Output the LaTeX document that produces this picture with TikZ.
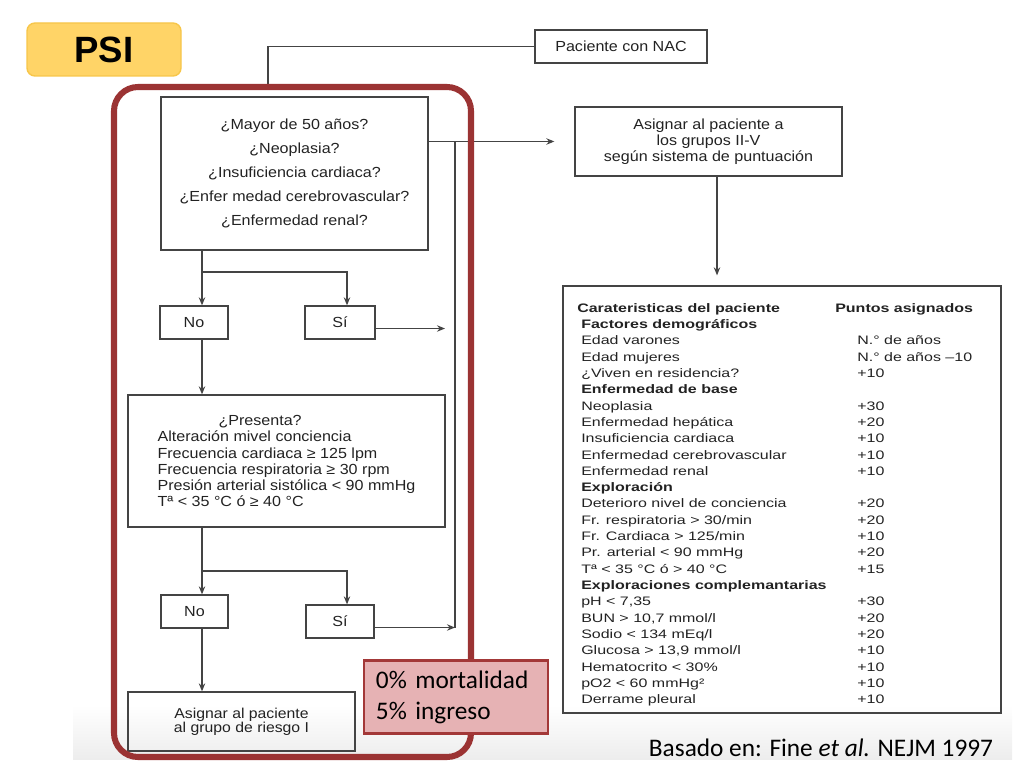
\documentclass[tikz,border=0pt]{standalone}
\usepackage{fontspec}
\setmainfont{Liberation Sans}
\newfontfamily\flujo[FakeStretch=1.1]{Liberation Sans}
\newfontfamily\tabla[FakeStretch=1.3]{Liberation Sans}
\newfontfamily\diapo{Carlito}
\usepackage{array}
\usetikzlibrary{arrows.meta, calc}
\newlength{\px}
\setlength{\px}{0.025cm}
\definecolor{lineaGris}{HTML}{444444}
\definecolor{textoGris}{HTML}{222222}
\definecolor{psiAmarillo}{HTML}{FFD467}
\definecolor{psiBorde}{HTML}{F7C64A}
\definecolor{marcoRojo}{HTML}{9B3333}
\definecolor{notaRosa}{HTML}{E6B2B4}
\definecolor{notaBorde}{HTML}{A33838}
\tikzstyle{caja} = [rectangle, draw=lineaGris, line width=0.9pt, inner sep=0pt, text=textoGris, font=\flujo\fontsize{10.4}{11.4}\selectfont]
\tikzstyle{flecha} = [-{Stealth[length=2mm, width=1.6mm]}, lineaGris, line width=0.9pt]
\tikzstyle{linea} = [lineaGris, line width=0.9pt]
\tikzstyle{marco} = [marcoRojo, line width=4.3pt, rounded corners=0.6cm]
\tikzstyle{diapoTexto} = [font=\diapo\fontsize{18}{22}\selectfont]

\begin{document}
\begin{tikzpicture}[x=0.025cm, y=-0.025cm]
    \useasboundingbox (0,0) rectangle (1024,768);

    % Fondo gris inferior
    \shade[top color=white, bottom color=black!7] (73,705) rectangle (1012,759);

    % Titulo
    \node[rectangle, rounded corners=0.2cm, fill=psiAmarillo, draw=psiBorde, line width=1pt, minimum width=154\px, minimum height=53\px, font=\bfseries\fontsize{26}{30}\selectfont] (psi) at (104,49.5) {PSI};

    % Inicio
    \node[caja, minimum width=172\px, minimum height=33\px] (nac) at (621,46.5) {Paciente con NAC};

    % Rama izquierda (grupo I)
    \node[caja, align=center, minimum width=267\px, minimum height=153\px, font=\flujo\fontsize{10.4}{17.1}\selectfont] (preg1) at (294.5,173.5) {¿Mayor de 50 años?\\¿Neoplasia?\\¿Insuficiencia cardiaca?\\¿Enfer medad cerebrovascular?\\¿Enfermedad renal?};
    \node[caja, minimum width=68\px, minimum height=33\px] (no1) at (194,322.5) {No};
    \node[caja, minimum width=70\px, minimum height=33\px] (si1) at (340,322.5) {Sí};
    \node[caja, align=left, minimum width=317\px, minimum height=132\px] (preg2) at (286.5,461) {\hspace*{61\px}¿Presenta?\\Alteración mivel conciencia\\Frecuencia cardiaca ≥ 125 lpm\\Frecuencia respiratoria ≥ 30 rpm\\Presión arterial sistólica < 90 mmHg\\Tª < 35 °C ó ≥ 40 °C};
    \node[caja, minimum width=67\px, minimum height=33\px] (no2) at (194.5,611.5) {No};
    \node[caja, minimum width=68\px, minimum height=33\px] (si2) at (340,621.5) {Sí};
    \node[caja, align=center, minimum width=227\px, minimum height=59\px, font=\flujo\fontsize{10.2}{10}\selectfont] (grupo1) at (241.5,721.5) {Asignar al paciente\\al grupo de riesgo I};

    % Rama derecha (grupos II-V)
    \node[caja, align=center, minimum width=267\px, minimum height=69\px] (asignar) at (708.5,141.5) {Asignar al paciente a\\los grupos II-V\\según sistema de puntuación};
    \node[rectangle, draw=lineaGris, line width=0.9pt, minimum width=438\px, minimum height=427\px] (tabla) at (782,499.5) {};
    \node[anchor=north west, inner sep=0pt, text=textoGris, font=\tabla\fontsize{8.75}{11.6}\selectfont] (puntos) at (581,300.5) {%
        \begin{tabular}{@{}p{276\px}@{}l@{}}
            \hspace*{-4\px}\textbf{Carateristicas del paciente} & \hspace*{-22\px}\textbf{Puntos asignados}\\
            \textbf{Factores demográficos} & \\
            Edad varones & N.° de años\\
            Edad mujeres & N.° de años –10\\
            ¿Viven en residencia? & +10\\
            \textbf{Enfermedad de base} & \\
            Neoplasia & +30\\
            Enfermedad hepática & +20\\
            Insuficiencia cardiaca & +10\\
            Enfermedad cerebrovascular & +10\\
            Enfermedad renal & +10\\
            \textbf{Exploración} & \\
            Deterioro nivel de conciencia & +20\\
            Fr. respiratoria > 30/min & +20\\
            Fr. Cardiaca > 125/min & +10\\
            Pr. arterial < 90 mmHg & +20\\
            Tª < 35 °C ó > 40 °C & +15\\
            \textbf{Exploraciones complemantarias} & \\
            pH < 7,35 & +30\\
            BUN > 10,7 mmol/l & +20\\
            Sodio < 134 mEq/l & +20\\
            Glucosa > 13,9 mmol/l & +10\\
            Hematocrito < 30\% & +10\\
            pO2 < 60 mmHg² & +10\\
            Derrame pleural & +10
        \end{tabular}};

    % Puntos de paso
    \coordinate (entrada) at (268,90);
    \coordinate (ejeIzq) at (202,0);
    \coordinate (ejeSi) at (347,0);
    \coordinate (bus) at (455,0);
    \coordinate (ejeTabla) at (717,0);
    \coordinate (rama1) at (202,272);
    \coordinate (rama2) at (202,571);
    \coordinate (salida1) at ([yshift=-0.15cm]si1.east);
    \coordinate (salida2) at ([yshift=-0.15cm]si2.east);

    % Conexiones
    \draw[linea] (nac.west) -| (entrada);
    \draw[flecha, shorten >=0.5cm] (asignar.west -| preg1.east) -- (asignar.west);
    \draw[linea] (asignar.west -| bus) -- (salida2 -| bus);
    \draw[flecha, shorten >=0.25cm] (salida1) -- (salida1 -| bus);
    \draw[flecha] (salida2) -- (salida2 -| bus);
    \draw[flecha] (preg1.south -| ejeIzq) -- (no1.north -| ejeIzq);
    \draw[flecha] (rama1) -| (si1.north -| ejeSi);
    \draw[flecha] (no1.south -| ejeIzq) -- (preg2.north -| ejeIzq);
    \draw[flecha] (preg2.south -| ejeIzq) -- (no2.north -| ejeIzq);
    \draw[flecha] (rama2) -| (si2.north -| ejeSi);
    \draw[flecha] (no2.south -| ejeIzq) -- (grupo1.north -| ejeIzq);
    \draw[flecha, shorten >=0.25cm] (asignar.south -| ejeTabla) -- (tabla.north -| ejeTabla);

    % Marco del grupo I
    \draw[marco] (114,87) rectangle (471,757);

    % Nota y fuente
    \node[rectangle, fill=notaRosa, draw=notaBorde, line width=1.8pt, text width=4cm, inner xsep=0.3cm, inner ysep=0pt, minimum height=73\px, align=left, diapoTexto] (nota) at (456,697) {0\% mortalidad\\5\% ingreso};
    \node[anchor=base, inner sep=0pt, diapoTexto] (fuente) at (821,756) {Basado en: Fine \textit{et al.} NEJM 1997};
\end{tikzpicture}
\end{document}
